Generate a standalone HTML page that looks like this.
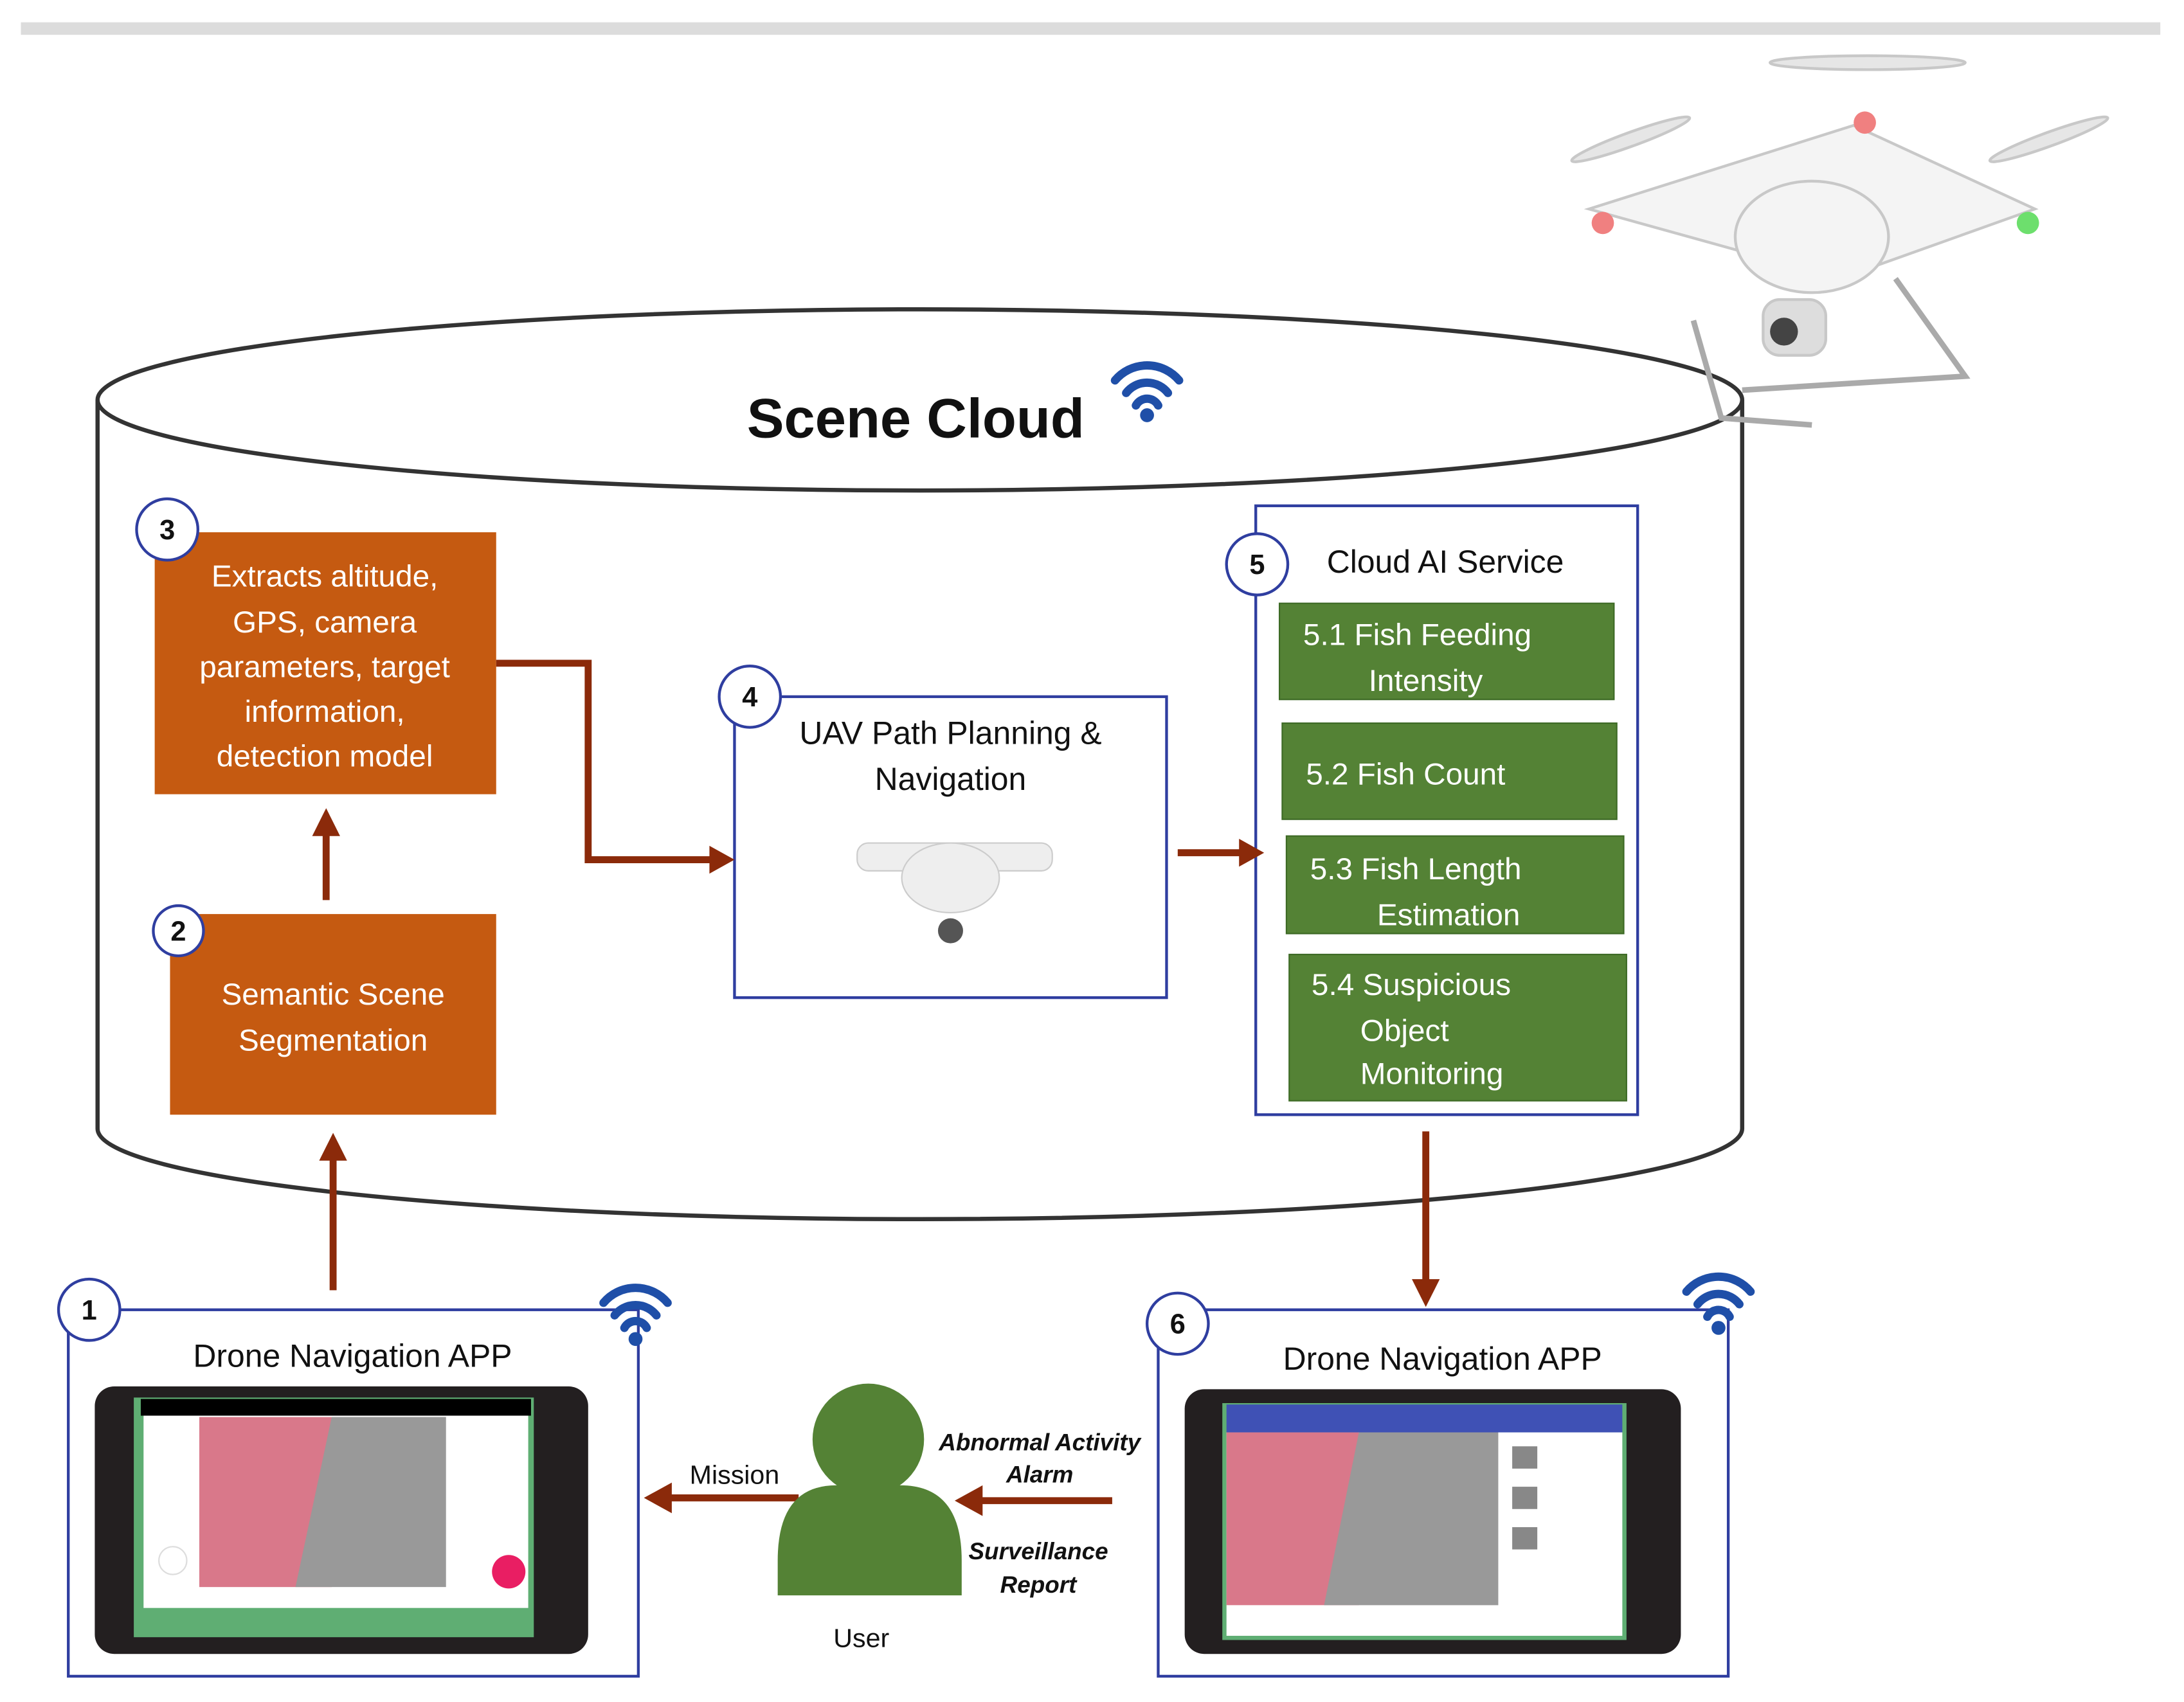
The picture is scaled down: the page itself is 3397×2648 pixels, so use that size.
<!DOCTYPE html>
<html><head><meta charset="utf-8"><style>
html,body{margin:0;padding:0;background:#fff;}
svg{display:block;}
text{font-family:"Liberation Sans",sans-serif;}
</style></head><body>
<svg width="3397" height="2648" viewBox="0 0 1567 1221.5" preserveAspectRatio="none" xmlns="http://www.w3.org/2000/svg">
<rect x="15" y="16" width="1535" height="9" fill="#dcdcdc"/>
<!-- cylinder -->
<path d="M70,287 L70,810 A590,65 0 0 0 1250,810 L1250,287" fill="#fff" stroke="#333" stroke-width="3"/>
<ellipse cx="660" cy="287" rx="590" ry="65" fill="#fff" stroke="#333" stroke-width="3"/>
<text x="657" y="314" font-size="40" font-weight="bold" text-anchor="middle" fill="#111">Scene Cloud</text>
<g fill="none" stroke="#1f4fa8" stroke-width="6" stroke-linecap="round">
<path d="M800,273 A30,30 0 0 1 846,273"/><path d="M808,282 A19,19 0 0 1 838,282"/><path d="M815,291 A9,9 0 0 1 831,291"/>
</g><circle cx="823" cy="298" r="5" fill="#1f4fa8"/>
<!-- drone top right -->
<g stroke="#c8c8c8" stroke-width="2" fill="#f4f4f4">
<ellipse cx="1340" cy="45" rx="70" ry="5" fill="#e6e6e6"/>
<ellipse cx="1170" cy="100" rx="45" ry="5" fill="#e6e6e6" transform="rotate(-20 1170 100)"/>
<ellipse cx="1470" cy="100" rx="45" ry="5" fill="#e6e6e6" transform="rotate(-20 1470 100)"/>
<path d="M1140,150 L1330,90 L1460,150 L1320,200 Z"/>
<ellipse cx="1300" cy="170" rx="55" ry="40"/>
<rect x="1265" y="215" width="45" height="40" rx="12" fill="#ddd"/>
<path d="M1215,230 L1235,300 L1300,305 M1360,200 L1410,270 L1250,280" fill="none" stroke="#aaa" stroke-width="4"/>
</g>
<circle cx="1150" cy="160" r="8" fill="#f08080"/><circle cx="1455" cy="160" r="8" fill="#6ddf6d"/><circle cx="1338" cy="88" r="8" fill="#f08080"/>
<circle cx="1280" cy="238" r="10" fill="#444"/>
<!-- box 3 -->
<rect x="111" y="382" width="245" height="188" fill="#c55a11"/>
<g fill="#fff" font-size="22" text-anchor="middle">
<text x="233" y="421">Extracts altitude,</text><text x="233" y="454">GPS, camera</text><text x="233" y="486">parameters, target</text><text x="233" y="518">information,</text><text x="233" y="550">detection model</text>
</g>
<rect x="122" y="656" width="234" height="144" fill="#c55a11"/>
<g fill="#fff" font-size="22" text-anchor="middle"><text x="239" y="721">Semantic Scene</text><text x="239" y="754">Segmentation</text></g>
<rect x="527" y="500" width="310" height="216" fill="#fff" stroke="#2f3ea0" stroke-width="2"/>
<g fill="#111" font-size="23" text-anchor="middle"><text x="682" y="534">UAV Path Planning &amp;</text><text x="682" y="567">Navigation</text></g>
<g fill="#eee" stroke="#ccc"><rect x="615" y="605" width="140" height="20" rx="8"/><ellipse cx="682" cy="630" rx="35" ry="25"/></g>
<circle cx="682" cy="668" r="9" fill="#555"/>
<rect x="901" y="363" width="274" height="437" fill="#fff" stroke="#2f3ea0" stroke-width="2"/>
<text x="1037" y="411" font-size="23" text-anchor="middle" fill="#111">Cloud AI Service</text>
<g fill="#548235" stroke="#3d6a25" stroke-width="1">
<rect x="918" y="433" width="240" height="69"/><rect x="920" y="519" width="240" height="69"/><rect x="923" y="600" width="242" height="70"/><rect x="925" y="685" width="242" height="105"/>
</g>
<g fill="#fff" font-size="22">
<text x="935" y="463">5.1 Fish Feeding</text><text x="982" y="496">Intensity</text>
<text x="937" y="563">5.2 Fish Count</text>
<text x="940" y="631">5.3 Fish Length</text><text x="988" y="664">Estimation</text>
<text x="941" y="714">5.4 Suspicious</text><text x="976" y="747">Object</text><text x="976" y="778">Monitoring</text>
</g>
<g stroke="#8b2a0a" stroke-width="5" fill="none">
<path d="M356,476 L422,476 L422,617 L512,617"/>
<path d="M234,646 L234,598"/>
<path d="M845,612 L892,612"/>
<path d="M1023,812 L1023,922"/>
<path d="M239,926 L239,830"/>
<path d="M573,1075 L478,1075"/>
<path d="M798,1077 L702,1077"/>
</g>
<g fill="#8b2a0a">
<path d="M527,617 L509,607 L509,627 Z"/>
<path d="M234,580 L224,600 L244,600 Z"/>
<path d="M907,612 L889,602 L889,622 Z"/>
<path d="M1023,938 L1013,918 L1033,918 Z"/>
<path d="M239,813 L229,833 L249,833 Z"/>
<path d="M462,1075 L482,1064 L482,1086 Z"/>
<path d="M685,1077 L705,1066 L705,1088 Z"/>
</g>
<rect x="49" y="940" width="409" height="263" fill="#fff" stroke="#2f3ea0" stroke-width="2"/>
<rect x="831" y="940" width="409" height="263" fill="#fff" stroke="#2f3ea0" stroke-width="2"/>
<text x="253" y="981" font-size="23" text-anchor="middle" fill="#111">Drone  Navigation APP</text>
<text x="1035" y="983" font-size="23" text-anchor="middle" fill="#111">Drone  Navigation APP</text>
<rect x="68" y="995" width="354" height="192" rx="14" fill="#231f20"/>
<rect x="96" y="1003" width="287" height="172" fill="#5fae73"/>
<rect x="101" y="1004" width="280" height="12" fill="#000"/>
<rect x="103" y="1016" width="276" height="138" fill="#fff"/>
<rect x="143" y="1017" width="95" height="122" fill="#d9788a"/>
<path d="M238,1017 L320,1017 L320,1139 L212,1139 Z" fill="#999"/>
<circle cx="365" cy="1128" r="12" fill="#e91e63"/><circle cx="124" cy="1120" r="10" fill="#fff" stroke="#ddd"/>
<rect x="850" y="997" width="356" height="190" rx="14" fill="#231f20"/>
<rect x="877" y="1007" width="290" height="170" fill="#5fae73"/>
<rect x="880" y="1008" width="284" height="20" fill="#3f51b5"/>
<rect x="880" y="1028" width="284" height="146" fill="#fff"/>
<rect x="880" y="1028" width="95" height="124" fill="#d9788a"/>
<path d="M975,1028 L1075,1028 L1075,1152 L950,1152 Z" fill="#999"/>
<g fill="#888"><rect x="1085" y="1038" width="18" height="16"/><rect x="1085" y="1067" width="18" height="16"/><rect x="1085" y="1096" width="18" height="16"/></g>
<g fill="none" stroke="#1f4fa8" stroke-width="6" stroke-linecap="round">
<path d="M433,935 A30,30 0 0 1 479,935"/><path d="M441,944 A19,19 0 0 1 471,944"/><path d="M448,953 A9,9 0 0 1 464,953"/>
<path d="M1210,927 A30,30 0 0 1 1256,927"/><path d="M1218,936 A19,19 0 0 1 1248,936"/><path d="M1225,945 A9,9 0 0 1 1241,945"/>
</g>
<circle cx="456" cy="961" r="5" fill="#1f4fa8"/><circle cx="1233" cy="953" r="5" fill="#1f4fa8"/>
<circle cx="623" cy="1033" r="40" fill="#548235"/>
<path d="M558,1145 L558,1120 Q558,1066 600,1066 L646,1066 Q690,1066 690,1120 L690,1145 Z" fill="#548235"/>
<text x="618" y="1182" font-size="19" text-anchor="middle" fill="#111">User</text>
<text x="527" y="1065" font-size="19" text-anchor="middle" fill="#111">Mission</text>
<g font-size="17" font-weight="bold" font-style="italic" fill="#111" text-anchor="middle">
<text x="746" y="1041">Abnormal Activity</text><text x="746" y="1064">Alarm</text>
<text x="745" y="1119">Surveillance</text><text x="745" y="1143">Report</text>
</g>
<g fill="#fff" stroke="#2f3ea0" stroke-width="2">
<circle cx="120" cy="380" r="22"/><circle cx="538" cy="500" r="22"/><circle cx="902" cy="405" r="22"/>
<circle cx="128" cy="668" r="18"/><circle cx="64" cy="940" r="22"/><circle cx="845" cy="950" r="22"/>
</g>
<g font-size="20" font-weight="bold" text-anchor="middle" fill="#111">
<text x="120" y="387">3</text><text x="538" y="507">4</text><text x="902" y="412">5</text>
<text x="128" y="675">2</text><text x="64" y="947">1</text><text x="845" y="957">6</text>
</g>
</svg>
</body></html>
